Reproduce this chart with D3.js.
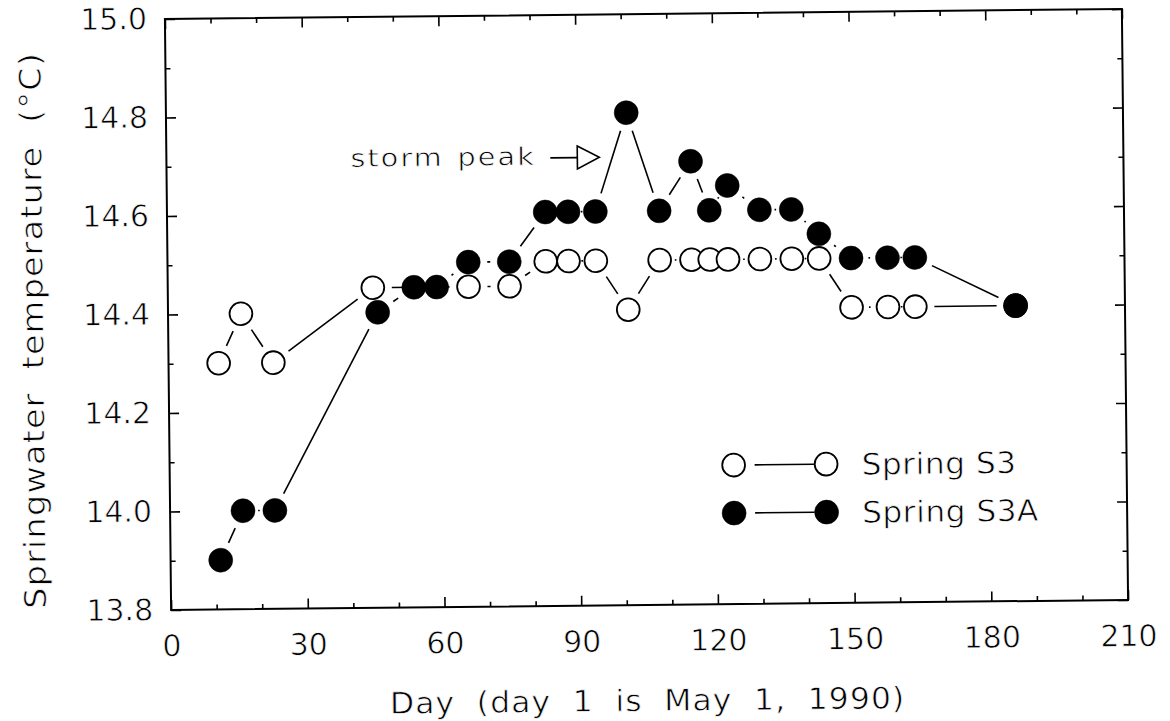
<!DOCTYPE html>
<html><head><meta charset="utf-8">
<script src="https://cdn.jsdelivr.net/npm/d3@7"></script>
<style>
html,body{margin:0;padding:0;background:#fff;}
svg{display:block;}
text{font-family:"DejaVu Sans",sans-serif;fill:#000;stroke:#fff;stroke-width:0.7px;paint-order:normal;}
</style>
</head><body>
<svg id="chart" width="1170" height="721"></svg>
<script>
// ---- data ----
const s3Days  = [11,16,23,45,66,75,83,88,94,101,108,115,119,123,130,137,143,150,158,164,186];
const s3Temps = [14.3,14.4,14.3,14.45,14.45,14.45,14.5,14.5,14.5,14.4,14.5,14.5,14.5,14.5,14.5,14.5,14.5,14.4,14.4,14.4,14.4];
const s3aDays  = [11,16,23,46,54,59,66,75,83,88,94,101,108,115,119,123,130,137,143,150,158,164,186];
const s3aTemps = [13.9,14.0,14.0,14.4,14.45,14.45,14.5,14.5,14.6,14.6,14.6,14.8,14.6,14.7,14.6,14.65,14.6,14.6,14.55,14.5,14.5,14.5,14.4];
const xTickLabels = [0,30,60,90,120,150,180,210];
const xMinorTicks = [10,20,40,50,70,80,100,110,130,140,160,170,190,200];
const yTickLabels = ["13.8","14.0","14.2","14.4","14.6","14.8","15.0"];
const yMinorTicks = [13.9,14.1,14.3,14.5,14.7,14.9];
const seriesNames = ["Spring S3","Spring S3A"];
const xTitle = "Day (day 1 is May 1, 1990)";
const yTitle = "Springwater temperature (°C)";
const annText = "storm peak";
const annDay = 95, annTemp = 14.71;

// ---- layout ----
const svg = d3.select("#chart");
const g = svg.append("g").attr("transform","rotate(-0.6 645 310)");
const L = 168, R = 1125, T = 14, B = 605;
const x = d3.scaleLinear().domain([0,210]).range([L,R]);
const y = d3.scaleLinear().domain([13.8,15.0]).range([B,T]);
const FS = 30;

function styleAxis(a){
  a.select(".domain").remove();
  a.selectAll("line").attr("stroke","#000").attr("stroke-width",1.6);
  a.attr("font-family","DejaVu Sans, sans-serif").attr("font-size",FS);
  a.selectAll("text").attr("fill","#000");
}
// bottom
styleAxis(g.append("g").attr("transform",`translate(0,${B})`)
  .call(d3.axisBottom(x).tickValues(xTickLabels).tickSize(-10).tickSizeOuter(0).tickPadding(25).tickFormat(d3.format("d"))));
styleAxis(g.append("g").attr("transform",`translate(0,${B})`)
  .call(d3.axisBottom(x).tickValues(xMinorTicks).tickSize(-5).tickSizeOuter(0).tickFormat("")));
// top
styleAxis(g.append("g").attr("transform",`translate(0,${T})`)
  .call(d3.axisTop(x).tickValues(xTickLabels).tickSize(-10).tickSizeOuter(0).tickFormat("")));
styleAxis(g.append("g").attr("transform",`translate(0,${T})`)
  .call(d3.axisTop(x).tickValues(xMinorTicks).tickSize(-5).tickSizeOuter(0).tickFormat("")));
// left
styleAxis(g.append("g").attr("transform",`translate(${L},0)`)
  .call(d3.axisLeft(y).tickValues(yTickLabels.map(Number)).tickSize(-10).tickSizeOuter(0).tickPadding(18).tickFormat(d3.format(".1f"))));
styleAxis(g.append("g").attr("transform",`translate(${L},0)`)
  .call(d3.axisLeft(y).tickValues(yMinorTicks).tickSize(-5).tickSizeOuter(0).tickFormat("")));
// right
styleAxis(g.append("g").attr("transform",`translate(${R},0)`)
  .call(d3.axisRight(y).tickValues(yTickLabels.map(Number)).tickSize(-10).tickSizeOuter(0).tickFormat("")));
styleAxis(g.append("g").attr("transform",`translate(${R},0)`)
  .call(d3.axisRight(y).tickValues(yMinorTicks).tickSize(-5).tickSizeOuter(0).tickFormat("")));

// frame
g.append("rect").attr("x",L).attr("y",T).attr("width",R-L).attr("height",B-T)
  .attr("fill","none").attr("stroke","#000").attr("stroke-width",2);

// axis titles
g.append("text").attr("transform",`translate(${(L+R)/2 - 3},711) scale(1.05,1)`)
  .attr("text-anchor","middle").attr("font-size",FS)
  .style("letter-spacing","1px").style("word-spacing","10px").text(xTitle);
g.append("text").attr("transform","translate(43,324) rotate(-90) scale(1.12,1)")
  .attr("text-anchor","middle").attr("font-size",FS)
  .style("letter-spacing","1px").style("word-spacing","10px").text(yTitle);

// ---- series ----
const GAP = 19;
function segments(days, temps){
  const out = [];
  for(let i=0;i<days.length-1;i++){
    const x1=x(days[i]), y1=y(temps[i]), x2=x(days[i+1]), y2=y(temps[i+1]);
    const dx=x2-x1, dy=y2-y1, len=Math.hypot(dx,dy), ux=dx/len, uy=dy/len;
    if(len > 2*GAP + 1.5){
      out.push([x1+ux*GAP, y1+uy*GAP, x2-ux*GAP, y2-uy*GAP]);
    } else {
      const mx=(x1+x2)/2, my=(y1+y2)/2;
      out.push([mx-ux*0.8, my-uy*0.8, mx+ux*0.8, my+uy*0.8]);
    }
  }
  return out;
}
function drawSeries(days, temps, filled){
  const sg = g.append("g");
  sg.selectAll("line").data(segments(days,temps)).join("line")
    .attr("x1",d=>d[0]).attr("y1",d=>d[1]).attr("x2",d=>d[2]).attr("y2",d=>d[3])
    .attr("stroke","#000").attr("stroke-width",1.6);
  sg.selectAll("circle").data(days.map((d,i)=>[d,temps[i]])).join("circle")
    .attr("cx",d=>x(d[0])).attr("cy",d=>y(d[1]))
    .attr("r", filled ? 12 : 11.4)
    .attr("fill", filled ? "#000" : "#fff")
    .attr("stroke","#000").attr("stroke-width", filled ? 0.5 : 1.8);
}
drawSeries(s3Days, s3Temps, false);
drawSeries(s3aDays, s3aTemps, true);

// ---- annotation ----
const tipX = x(annDay), tipY = y(annTemp);
g.append("line").attr("x1",tipX-49).attr("y1",tipY).attr("x2",tipX-22).attr("y2",tipY)
  .attr("stroke","#000").attr("stroke-width",1.8);
g.append("path").attr("d",`M${tipX-22},${tipY-11.5}L${tipX},${tipY}L${tipX-22},${tipY+11.5}Z`)
  .attr("fill","#fff").attr("stroke","#000").attr("stroke-width",1.6);
g.append("text").attr("transform",`translate(${tipX-249},${tipY+7}) scale(1.15,1)`).attr("font-size",25)
  .style("letter-spacing","1.8px").style("word-spacing","2px").text(annText);

// ---- legend ----
const leg = g.append("g");
const legRows = [{name:seriesNames[0], filled:false, cy:466},{name:seriesNames[1], filled:true, cy:514}];
legRows.forEach(r=>{
  const c1=732, c2=824.5;
  leg.append("line").attr("x1",c1+21).attr("y1",r.cy).attr("x2",c2-12).attr("y2",r.cy)
    .attr("stroke","#000").attr("stroke-width",1.6);
  [c1,c2].forEach(cx=>leg.append("circle").attr("cx",cx).attr("cy",r.cy)
    .attr("r", r.filled?12:11.4).attr("fill", r.filled?"#000":"#fff")
    .attr("stroke","#000").attr("stroke-width", r.filled?0.5:1.8));
  leg.append("text").attr("transform",`translate(860,${r.cy+11}) scale(1.04,1)`).attr("font-size",FS)
    .style("letter-spacing","0.5px").text(r.name);
});
</script>
</body></html>
